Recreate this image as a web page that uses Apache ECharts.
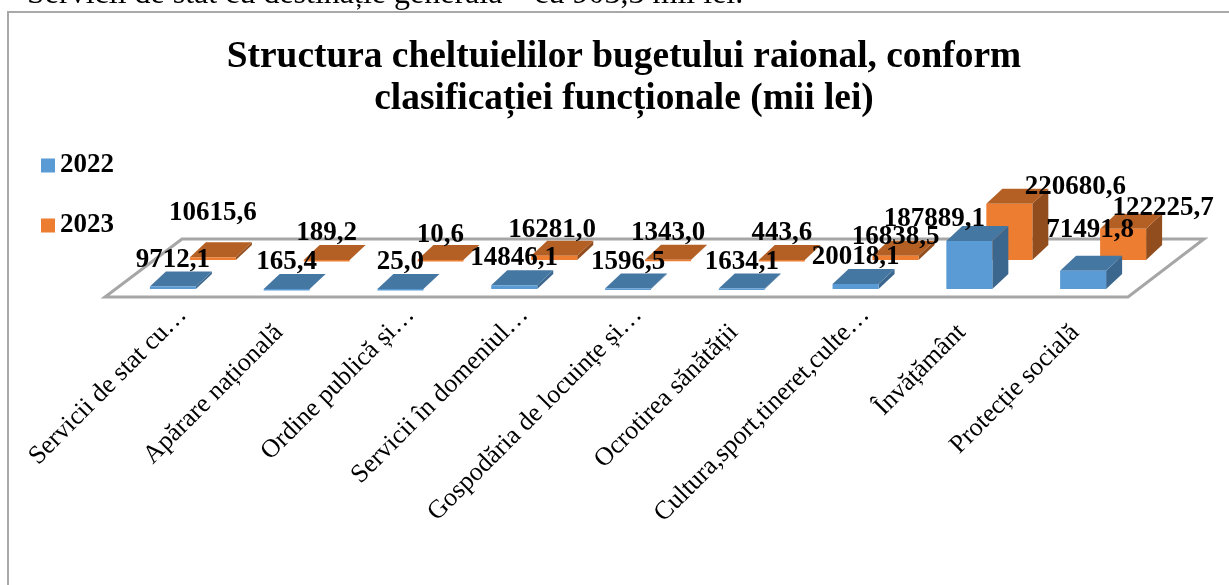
<!DOCTYPE html>
<html>
<head>
<meta charset="utf-8">
<style>
  html, body { margin: 0; padding: 0; background: #fff; overflow: hidden; }
  #chart { width: 1229px; height: 585px; }
</style>
<script src="https://cdn.jsdelivr.net/npm/echarts@6/dist/echarts.min.js"></script>
</head>
<body>
<div id="chart"></div>
<script>
// Date
const categories = ['Servicii de stat cu…', 'Apărare națională', 'Ordine publică și…', 'Servicii în domeniul…', 'Gospodăria de locuințe și…', 'Ocrotirea sănătății', 'Cultura,sport,tineret,culte…', 'Învățământ', 'Protecție socială'];
const values2022 = [9712.1, 165.4, 25.0, 14846.1, 1596.5, 1634.1, 20018.1, 187889.1, 71491.8];
const values2023 = [10615.6, 189.2, 10.6, 16281.0, 1343.0, 443.6, 16838.5, 220680.6, 122225.7];

const fmt = v => v.toFixed(1).replace('.', ',');
const serif = '"Liberation Serif", "Times New Roman", serif';

// Pseudo-3D: fata, capac si lateral, ca in Excel
const barW = 46, depthX = 16, depthY = 15;

function bar3d(shiftX, shiftY, colors, labelNudge) {
    return function (params, api) {
        const i = api.value(0);
        const top = api.coord([i, api.value(1)]);
        const base = api.coord([i, 0]);
        const x0 = top[0] - barW / 2 + shiftX;
        const x1 = x0 + barW;
        const yt = top[1] + shiftY;
        const yb = base[1] + shiftY;
        const n = labelNudge[i];
        return {
            type: 'group',
            children: [
                { type: 'polygon', shape: { points: [[x1, yb], [x1 + depthX, yb - depthY], [x1 + depthX, yt - depthY], [x1, yt]] }, style: { fill: colors.side } },
                { type: 'polygon', shape: { points: [[x0, yt], [x1, yt], [x1 + depthX, yt - depthY], [x0 + depthX, yt - depthY]] }, style: { fill: colors.top } },
                { type: 'rect', shape: { x: x0, y: yt, width: barW, height: Math.max(yb - yt, 1.5) }, style: { fill: colors.front } },
                { type: 'text', z2: 50, style: { x: (x0 + x1) / 2 + n[0], y: yt + n[1], text: fmt(api.value(1)), font: 'bold 27px ' + serif, fill: '#000', align: 'center', verticalAlign: 'middle' } }
            ]
        };
    };
}

// Deplasarea etichetelor fata de bara: [dx, dy]
const nudge2022 = [[0, -26], [0, -27], [0, -27], [0, -27], [0, -27], [0, -27], [0, -27], [-35, -22], [7, -41]];
const nudge2023 = [[0, -44], [0, -27], [0, -25], [-2, -26], [0, -27], [0, -27], [0, -19], [66, -17], [40, -21]];

const myChart = echarts.init(document.getElementById('chart'), null, { renderer: 'canvas' });

const catFont = { fontFamily: serif, fontSize: 26, color: '#000' };

myChart.setOption({
    animation: false,
    backgroundColor: '#fff',
    title: {
        text: 'Structura cheltuielilor bugetului raional, conform\nclasificației funcționale (mii lei)',
        left: 619,
        top: 31,
        textAlign: 'center',
        textStyle: { fontFamily: serif, fontSize: 37.4, fontWeight: 'bold', color: '#000', lineHeight: 42 }
    },
    legend: {
        orient: 'vertical',
        left: 36,
        top: 147,
        itemWidth: 14,
        itemHeight: 14,
        itemGap: 33,
        icon: 'rect',
        data: ['2022', '2023'],
        textStyle: { fontFamily: serif, fontSize: 27, fontWeight: 'bold', color: '#000' }
    },
    graphic: [
        { type: 'text', left: 27, top: -21, style: { text: 'Servicii de stat cu destinație generală – cu 903,3 mii lei.', font: '32px ' + serif, fill: '#000' } },
        { type: 'rect', shape: { x: 8, y: 12, width: 1400, height: 800 }, style: { fill: 'none', stroke: '#a9a9a9', lineWidth: 2 } },
        { type: 'polygon', z: 0, shape: { points: [[105, 297], [1128, 297], [1204, 239], [182, 239]] }, style: { fill: '#fff', stroke: '#a6a6a6', lineWidth: 3 } }
    ],
    grid: { left: 126, width: 1024, top: 187, height: 102 },
    xAxis: {
        type: 'category',
        data: categories,
        axisLine: { show: false },
        axisTick: { show: false },
        axisLabel: {
            interval: 0,
            rotate: 45,
            margin: 22,
            ...catFont,
            // etichetele fara "…" se termina mai jos pe diagonala
            formatter: v => v.endsWith('…') ? '{e|' + v + '}' : '{n|' + v + '}',
            rich: { e: { ...catFont }, n: { ...catFont, padding: [0, 25, 0, 0] } }
        }
    },
    yAxis: { type: 'value', min: 0, max: 400000, show: false },
    series: [
        {
            name: '2023',
            type: 'custom',
            z: 2,
            itemStyle: { color: '#ed7d31' },
            encode: { x: 0, y: 1 },
            data: values2023.map((v, i) => [i, v]),
            renderItem: bar3d(30, -29, { front: '#ed7d31', top: '#b45f24', side: '#914d1d' }, nudge2023)
        },
        {
            name: '2022',
            type: 'custom',
            z: 3,
            itemStyle: { color: '#5b9bd5' },
            encode: { x: 0, y: 1 },
            data: values2022.map((v, i) => [i, v]),
            renderItem: bar3d(-10, 0, { front: '#5b9bd5', top: '#4577a3', side: '#3b678f' }, nudge2022)
        }
    ]
});
</script>
</body>
</html>
